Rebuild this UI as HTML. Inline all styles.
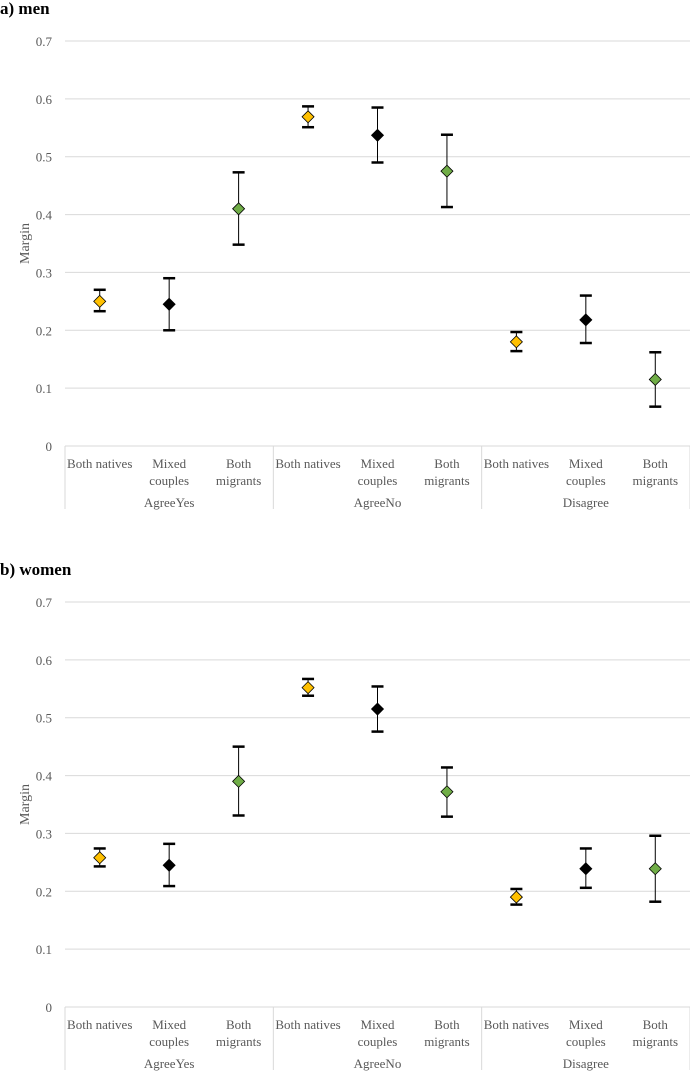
<!DOCTYPE html>
<html><head><meta charset="utf-8"><style>
body{margin:0;background:#fff;width:690px;height:1072px;overflow:hidden}
svg{font-family:"Liberation Serif",serif}
</style></head><body>
<svg id="c" width="690" height="1072"></svg>
<script>
const categories=["Both natives","Mixed couples","Both migrants","Both natives","Mixed couples","Both migrants","Both natives","Mixed couples","Both migrants"];
const groups=["AgreeYes","AgreeNo","Disagree"];
const yTicks=[0,0.1,0.2,0.3,0.4,0.5,0.6,0.7];
const menMargin=[0.25,0.245,0.41,0.569,0.537,0.475,0.18,0.218,0.115];
const menLow=[0.233,0.2,0.348,0.551,0.49,0.413,0.164,0.178,0.068];
const menHigh=[0.27,0.29,0.473,0.587,0.585,0.538,0.197,0.26,0.162];
const womenMargin=[0.258,0.245,0.39,0.552,0.515,0.372,0.19,0.239,0.239];
const womenLow=[0.243,0.209,0.331,0.538,0.476,0.329,0.177,0.206,0.182];
const womenHigh=[0.274,0.282,0.45,0.567,0.554,0.414,0.204,0.274,0.296];
const colors=["#FFC000","#000000","#70AD47"];
const svg=document.getElementById('c');
const NS="http://www.w3.org/2000/svg";
function mk(t,a,p){const e=document.createElementNS(NS,t);for(const k in a)e.setAttribute(k,a[k]);(p||svg).appendChild(e);return e;}
const x0=65,x1=690,cw=(x1-x0)/9;
function xc(i){return x0+cw*(i+0.5);}
function panel(title,top,zero,vals,lo,hi,key){
  const g=mk('g',{});
  
  
  const y=v=>zero-v*(zero-(zero-405))/0.7;
  const t=mk('text',{x:0,y:top,'font-size':17,'font-weight':'bold'},g);t.textContent=title;
  
  yTicks.forEach(v=>{
    const l=mk('line',{x1:x0,x2:x1,y1:y(v),y2:y(v),stroke:'#d9d9d9','stroke-width':1},g);
    
    const tx=mk('text',{x:52,y:y(v)+5,'font-size':13,'text-anchor':'end',fill:'#595959'},g);
    tx.textContent=v===0?'0':v.toFixed(1);
    
  });
  const at=mk('text',{transform:`translate(29,${y(0.35)}) rotate(-90)`,'font-size':14,'text-anchor':'middle',fill:'#595959'},g);
  at.textContent='Margin';
  [0,3,6,9].forEach(i=>{const l=mk('line',{x1:x0+cw*i,x2:x0+cw*i,y1:zero,y2:zero+63,stroke:'#d9d9d9'},g);
    });
  categories.forEach((c,i)=>{
    const tx=mk('text',{x:xc(i),y:zero+22,'font-size':13,'text-anchor':'middle',fill:'#595959'},g);
    
    if(c==='Both natives'){tx.textContent=c;}
    else{const w=c.split(' ');const a=mk('tspan',{x:xc(i)},tx);a.textContent=w[0];const b=mk('tspan',{x:xc(i),dy:17},tx);b.textContent=w[1];}
  });
  groups.forEach((gname,j)=>{const tx=mk('text',{x:xc(j*3+1),y:zero+61,'font-size':13,'text-anchor':'middle',fill:'#595959'},g);
    tx.textContent=gname;});
  vals.forEach((v,i)=>{
    const cx=xc(i);
    const eb=mk('g',{},g);
    mk('line',{x1:cx,x2:cx,y1:y(lo[i]),y2:y(hi[i]),stroke:'#000','stroke-width':1},eb);
    mk('line',{x1:cx-6,x2:cx+6,y1:y(lo[i]),y2:y(lo[i]),stroke:'#000','stroke-width':2.5},eb);
    mk('line',{x1:cx-6,x2:cx+6,y1:y(hi[i]),y2:y(hi[i]),stroke:'#000','stroke-width':2.5},eb);
    const cy=y(v);
    const p=mk('polygon',{points:`${cx},${cy-6} ${cx+6},${cy} ${cx},${cy+6} ${cx-6},${cy}`,fill:colors[i%3],stroke:'#000','stroke-width':0.8},g);
    
  });
}
panel('a) men',14,446,menMargin,menLow,menHigh,'men');
panel('b) women',575,1007,womenMargin,womenLow,womenHigh,'women');
</script>
</body></html>
